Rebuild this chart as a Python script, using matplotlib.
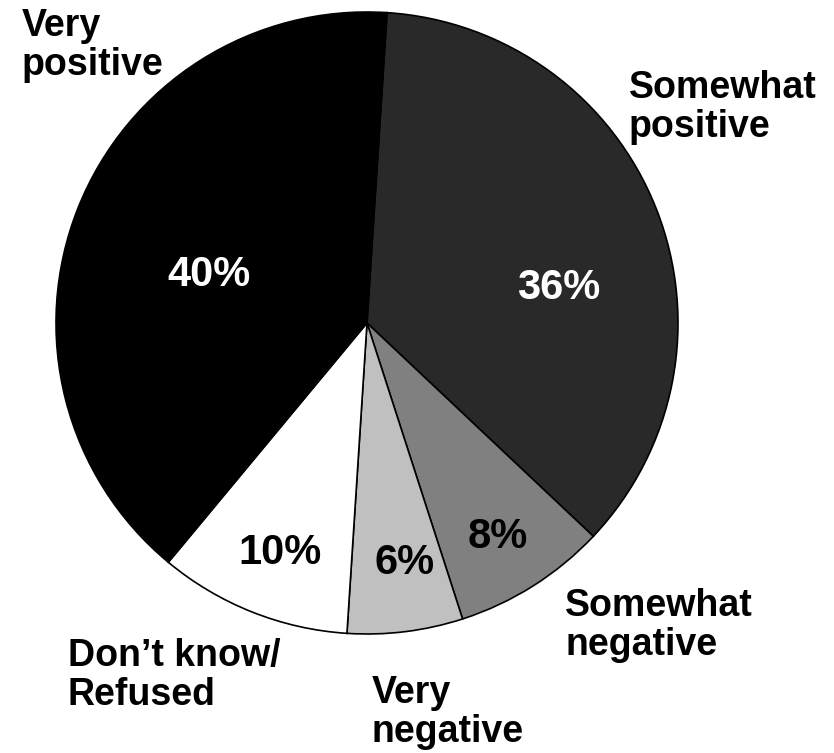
import matplotlib
matplotlib.use("Agg")
import matplotlib.pyplot as plt

# Slices in drawing order (clockwise from just right of 12 o'clock)
categories = ["Somewhat\npositive", "Somewhat\nnegative", "Very\nnegative",
              "Don\u2019t know/\nRefused", "Very\npositive"]
shares = [36, 8, 6, 10, 40]
pct_labels = ["36%", "8%", "6%", "10%", "40%"]
colors = ["#292929", "#808080", "#c0c0c0", "#ffffff", "#000000"]
pct_colors = ["white", "black", "black", "black", "white"]

# pie geometry in pixels of the 834x753 canvas
W, H = 834, 753
CX, CY, R = 367, 323, 311

# label anchors (left edge, cap top) in pixels
cat_pos = [(629, 70), (565, 588), (372, 675), (68, 638), (22, 8)]
pct_pos = [(517, 268), (468, 517), (375, 543), (238, 533), (167, 255)]


def to_data(px, py):
    return (px - CX) / R, (CY - py) / R


plt.rcParams["font.family"] = ["Liberation Sans", "DejaVu Sans"]

fig = plt.figure(figsize=(W / 100, H / 100), dpi=100)
ax = fig.add_axes([(CX - R) / W, (H - CY - R) / H, 2 * R / W, 2 * R / H])

ax.pie(shares, colors=colors, startangle=86.3, counterclock=False,
       wedgeprops=dict(edgecolor="black", linewidth=1.2))
ax.set_xlim(-1, 1)
ax.set_ylim(-1, 1)

for name, (px, py) in zip(categories, cat_pos):
    x, y = to_data(px, py)
    ax.text(x, y, name, ha="left", va="top", fontsize=27, fontweight="bold",
            linespacing=1.12, clip_on=False)

for lab, col, (px, py) in zip(pct_labels, pct_colors, pct_pos):
    x, y = to_data(px, py)
    ax.text(x, y, lab, ha="left", va="top", fontsize=30, fontweight="bold",
            color=col, clip_on=False)

fig.savefig("out.png", dpi=100)
